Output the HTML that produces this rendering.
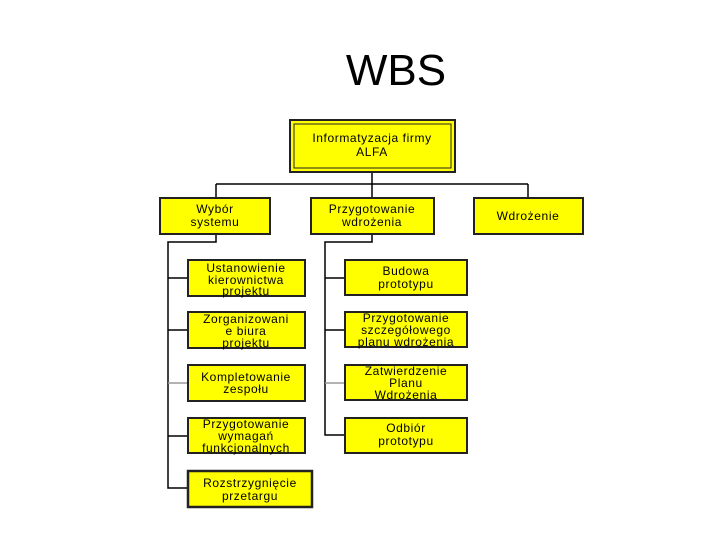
<!DOCTYPE html>
<html><head><meta charset="utf-8"><style>
body{margin:0;background:#fff}
svg text{font-family:"Liberation Sans",Arial,sans-serif;font-size:12px;text-anchor:middle;fill:#000;letter-spacing:0.6px}
</style></head><body>
<svg width="720" height="540" viewBox="0 0 720 540" xmlns="http://www.w3.org/2000/svg">
<text x="396" y="85" style="font-size:44px;letter-spacing:0">WBS</text>
<g stroke="#000" stroke-width="1.5" fill="none">
<line x1="372" y1="172" x2="372" y2="184"/>
<line x1="216" y1="184" x2="528" y2="184"/>
<line x1="216" y1="184" x2="216" y2="198"/>
<line x1="372" y1="184" x2="372" y2="198"/>
<line x1="528" y1="184" x2="528" y2="198"/>
<polyline points="216,234 216,242 168,242 168,488 188,488"/>
<polyline points="372,234 372,242 325,242 325,435 345,435"/>
<line x1="168" y1="278" x2="188" y2="278"/>
<line x1="168" y1="330" x2="188" y2="330"/>
<line x1="168" y1="383" x2="188" y2="383" stroke="#999"/>
<line x1="168" y1="436" x2="188" y2="436"/>
<line x1="325" y1="278" x2="345" y2="278"/>
<line x1="325" y1="330" x2="345" y2="330"/>
<line x1="325" y1="383" x2="345" y2="383" stroke="#999"/>
</g>
<g fill="#ffff00" stroke="#222" stroke-width="2">
<rect x="290" y="120" width="165" height="52"/>
<rect x="160" y="198" width="110" height="36"/>
<rect x="311" y="198" width="123" height="36"/>
<rect x="474" y="198" width="109" height="36"/>
<rect x="188" y="260" width="117" height="36"/>
<rect x="188" y="312" width="117" height="36"/>
<rect x="188" y="365" width="117" height="36"/>
<rect x="188" y="418" width="117" height="35"/>
<rect x="188" y="471" width="124" height="36" stroke-width="2.5"/>
<rect x="345" y="260" width="122" height="35"/>
<rect x="345" y="312" width="122" height="35"/>
<rect x="345" y="365" width="122" height="35"/>
<rect x="345" y="418" width="122" height="35"/>
</g>
<rect x="294" y="124" width="157" height="44" fill="none" stroke="#222" stroke-width="1"/>
<text x="372" y="142">Informatyzacja firmy</text>
<text x="372" y="156">ALFA</text>
<text x="215" y="213">Wybór</text><text x="215" y="226">systemu</text>
<text x="372" y="213">Przygotowanie</text><text x="372" y="226">wdrożenia</text>
<text x="528" y="220">Wdrożenie</text>
<text x="246" y="272">Ustanowienie</text><text x="246" y="284">kierownictwa</text><text x="246" y="295">projektu</text>
<text x="246" y="323">Zorganizowani</text><text x="246" y="335">e biura</text><text x="246" y="347">projektu</text>
<text x="246" y="381">Kompletowanie</text><text x="246" y="393">zespołu</text>
<text x="246" y="428">Przygotowanie</text><text x="246" y="440">wymagań</text><text x="246" y="452">funkcjonalnych</text>
<text x="250" y="487">Rozstrzygnięcie</text><text x="250" y="500">przetargu</text>
<text x="406" y="275">Budowa</text><text x="406" y="288">prototypu</text>
<text x="406" y="322">Przygotowanie</text><text x="406" y="334">szczegółowego</text><text x="406" y="346">planu wdrożenia</text>
<text x="406" y="375">Zatwierdzenie</text><text x="406" y="387">Planu</text><text x="406" y="399">Wdrożenia</text>
<text x="406" y="432">Odbiór</text><text x="406" y="445">prototypu</text>
</svg>
</body></html>
